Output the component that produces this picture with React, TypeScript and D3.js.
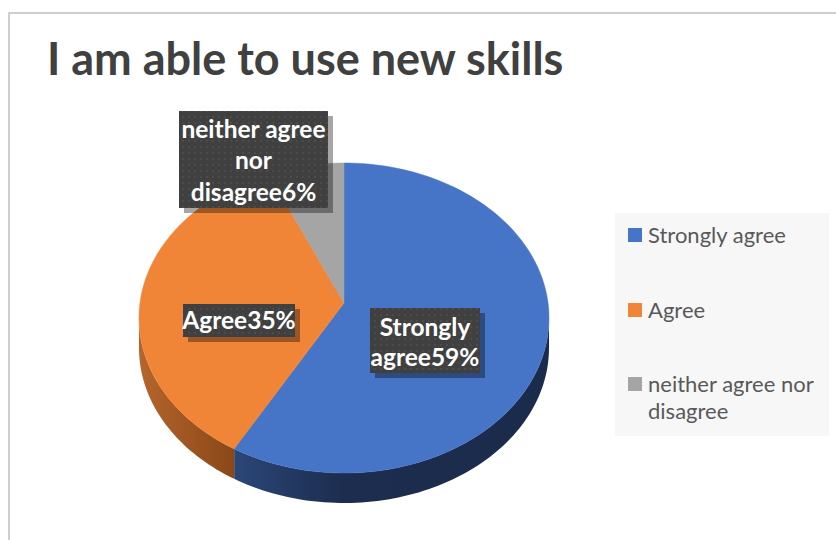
import React from "react";
import * as d3 from "d3";

const categories = ["Strongly agree", "Agree", "neither agree nor disagree"];
const values = [59, 35, 6];
const labelLines = [["Strongly", "agree59%"], ["Agree35%"], ["neither agree", "nor", "disagree6%"]];
const legendLines = [["Strongly agree"], ["Agree"], ["neither agree nor", "disagree"]];
const topColors = ["#4674C6", "#F08537", "#A5A5A5"];
const title = "I am able to use new skills";

const W = 836, H = 540;
const cx = 344, cy = 318, rx = 205, ry = 155, depth = 30;
const apexX = 344, apexY = 303;
const font = "Lato, 'Open Sans', sans-serif";

function rim(a: number, dy = 0): [number, number] {
  return [cx + rx * Math.sin(a), cy - ry * Math.cos(a) + dy];
}

function arcPts(a0: number, a1: number, dy = 0): [number, number][] {
  const n = Math.max(2, Math.ceil(((a1 - a0) / (2 * Math.PI)) * 240));
  const pts: [number, number][] = [];
  for (let i = 0; i <= n; i++) pts.push(rim(a0 + ((a1 - a0) * i) / n, dy));
  return pts;
}

export default function App() {
  const pie = d3.pie<number>().sort(null).startAngle(0).endAngle(2 * Math.PI);
  const arcs = pie(values);
  const line = d3.line();

  const labelBoxes = [
    { x: 370, y: 308, w: 110, h: 65, base: [336, 366] },
    { x: 183, y: 304, w: 112, h: 33, base: [329] },
    { x: 179, y: 111, w: 149, h: 97, base: [138, 169, 201] },
  ];
  const legendY = [235, 310, 384];

  const sides = arcs.map((a, i) => {
    const s = Math.max(a.startAngle, Math.PI / 2);
    const e = Math.min(a.endAngle, (3 * Math.PI) / 2);
    if (e <= s) return null;
    const topPts = arcPts(s, e, 0);
    const botPts = arcPts(s, e, depth).reverse();
    return { i, d: line([...topPts, ...botPts])! + "Z" };
  });

  return (
    <svg width={W} height={H} style={{ position: "absolute", left: 0, top: 0 }}>
      <defs>
        <linearGradient id="side0" x1="0" x2="1" y1="0" y2="0">
          <stop offset="0" stopColor="#2b4677" />
          <stop offset="0.35" stopColor="#1c2d4f" />
          <stop offset="1" stopColor="#1a2b4b" />
        </linearGradient>
        <linearGradient id="side1" x1="0" x2="1" y1="0" y2="0">
          <stop offset="0" stopColor="#b5652c" />
          <stop offset="1" stopColor="#8a4818" />
        </linearGradient>
        <linearGradient id="side2" x1="0" x2="1" y1="0" y2="0">
          <stop offset="0" stopColor="#6b6b6b" />
          <stop offset="1" stopColor="#555" />
        </linearGradient>
        <pattern id="dots" width="6" height="6" patternUnits="userSpaceOnUse">
          <rect width="6" height="6" fill="#404040" />
          <circle cx="3" cy="3" r="1" fill="#4e4e4e" />
        </pattern>
      </defs>
      <rect x={0} y={0} width={W} height={H} fill="#fff" />
      <path d={`M9,${H}V13H${W}`} fill="none" stroke="#bfbfbf" strokeWidth={1.5} />
      <text x={47} y={75} fontFamily={font} fontWeight={700} fontSize={45} fill="#404040">
        {title}
      </text>

      {sides.map((s) => s && <path key={"s" + s.i} d={s.d} fill={`url(#side${s.i})`} />)}
      {arcs.map((a, i) => {
        const pts: [number, number][] = [[apexX, apexY], ...arcPts(a.startAngle, a.endAngle)];
        return <path key={"t" + i} d={line(pts)! + "Z"} fill={topColors[i]} stroke={topColors[i]} strokeWidth={0.5} />;
      })}

      {labelBoxes.map((b, i) => (
        <g key={"l" + i}>
          <rect x={b.x + 5} y={b.y + 5} width={b.w} height={b.h} fill="#000" opacity={0.35} />
          <rect x={b.x} y={b.y} width={b.w} height={b.h} fill="url(#dots)" />
          {labelLines[i].map((t, j) => (
            <text
              key={j}
              x={b.x + b.w / 2}
              y={b.base[j]}
              textAnchor="middle"
              fontFamily={font}
              fontWeight={700}
              fontSize={24.5}
              fill="#fff"
            >
              {t}
            </text>
          ))}
        </g>
      ))}

      <rect x={615} y={213} width={214} height={223} fill="#f7f7f7" />
      {categories.map((c, i) => (
        <g key={"lg" + i}>
          <rect x={628} y={legendY[i] - 7} width={14} height={14} fill={topColors[i]} />
          {legendLines[i].map((t, j) => (
            <text
              key={j}
              x={648}
              y={legendY[i] + 8 + j * 27}
              fontFamily={font}
              fontSize={22}
              fill="#595959"
            >
              {t}
            </text>
          ))}
        </g>
      ))}
    </svg>
  );
}
